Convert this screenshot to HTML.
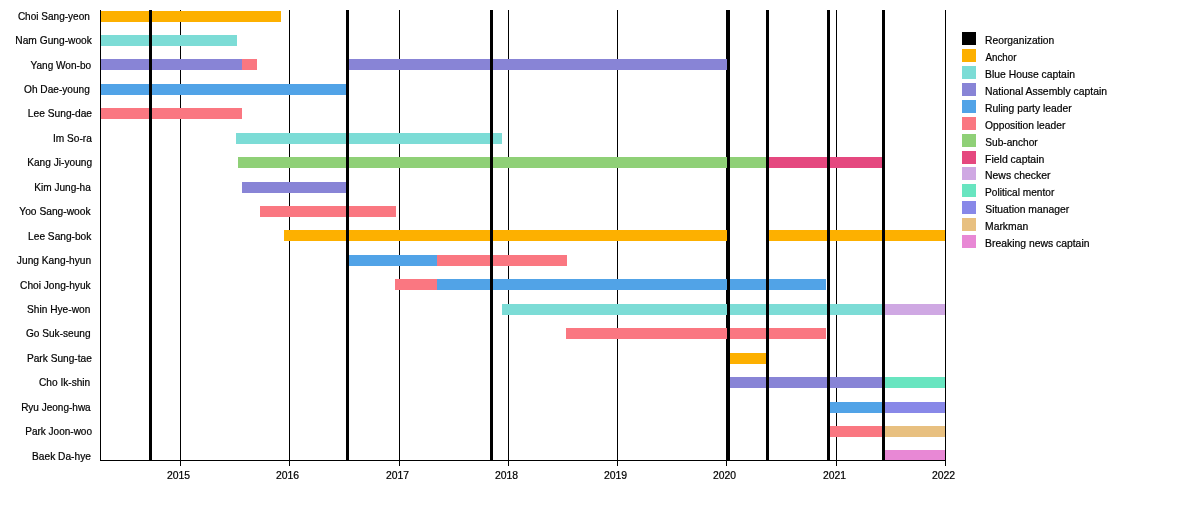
<!DOCTYPE html>
<html><head><meta charset="utf-8"><title>Timeline</title>
<style>
html,body{margin:0;padding:0;background:#fff;}
svg{display:block;will-change:transform;}
text{font-family:"Liberation Sans",sans-serif;font-size:10.1px;fill:#000;stroke:#000;stroke-width:0.2px;}
</style></head><body>
<svg width="1200" height="525" viewBox="0 0 1200 525">
<rect x="0" y="0" width="1200" height="525" fill="#ffffff"/>

<g shape-rendering="crispEdges">
<rect x="180" y="10" width="1" height="456" fill="#000"/>
<rect x="289" y="10" width="1" height="456" fill="#000"/>
<rect x="399" y="10" width="1" height="456" fill="#000"/>
<rect x="508" y="10" width="1" height="456" fill="#000"/>
<rect x="617" y="10" width="1" height="456" fill="#000"/>
<rect x="726" y="10" width="1" height="456" fill="#000"/>
<rect x="836" y="10" width="1" height="456" fill="#000"/>
<rect x="945" y="10" width="1" height="456" fill="#000"/>
<rect x="100" y="11" width="181" height="11" fill="#FDB000"/>
<rect x="100" y="35" width="137" height="11" fill="#7CDCD6"/>
<rect x="100" y="59" width="142" height="11" fill="#8884D6"/>
<rect x="242" y="59" width="15" height="11" fill="#FA7781"/>
<rect x="347" y="59" width="381" height="11" fill="#8884D6"/>
<rect x="100" y="84" width="247" height="11" fill="#51A3E7"/>
<rect x="100" y="108" width="142" height="11" fill="#FA7781"/>
<rect x="236" y="133" width="266" height="11" fill="#7CDCD6"/>
<rect x="238" y="157" width="529" height="11" fill="#8FD077"/>
<rect x="767" y="157" width="116" height="11" fill="#E5487F"/>
<rect x="242" y="182" width="105" height="11" fill="#8884D6"/>
<rect x="260" y="206" width="136" height="11" fill="#FA7781"/>
<rect x="284" y="230" width="444" height="11" fill="#FDB000"/>
<rect x="767" y="230" width="178" height="11" fill="#FDB000"/>
<rect x="347" y="255" width="90" height="11" fill="#51A3E7"/>
<rect x="437" y="255" width="130" height="11" fill="#FA7781"/>
<rect x="395" y="279" width="42" height="11" fill="#FA7781"/>
<rect x="437" y="279" width="389" height="11" fill="#51A3E7"/>
<rect x="502" y="304" width="381" height="11" fill="#7CDCD6"/>
<rect x="883" y="304" width="62" height="11" fill="#CFA8E3"/>
<rect x="566" y="328" width="260" height="11" fill="#FA7781"/>
<rect x="728" y="353" width="39" height="11" fill="#FDB000"/>
<rect x="728" y="377" width="155" height="11" fill="#8884D6"/>
<rect x="883" y="377" width="62" height="11" fill="#68E5C0"/>
<rect x="828" y="402" width="55" height="11" fill="#51A3E7"/>
<rect x="883" y="402" width="62" height="11" fill="#8888E8"/>
<rect x="828" y="426" width="55" height="11" fill="#FA7781"/>
<rect x="883" y="426" width="62" height="11" fill="#E8C080"/>
<rect x="883" y="450" width="62" height="11" fill="#E888D5"/>
<rect x="149" y="10" width="3" height="450" fill="#000"/>
<rect x="346" y="10" width="3" height="450" fill="#000"/>
<rect x="490" y="10" width="3" height="450" fill="#000"/>
<rect x="727" y="10" width="3" height="450" fill="#000"/>
<rect x="766" y="10" width="3" height="450" fill="#000"/>
<rect x="827" y="10" width="3" height="450" fill="#000"/>
<rect x="882" y="10" width="3" height="450" fill="#000"/>
<rect x="100" y="10" width="1" height="451" fill="#000"/>
<rect x="100" y="460" width="846" height="1" fill="#000"/>
<rect x="962" y="32" width="14" height="13" fill="#000000"/>
<rect x="962" y="49" width="14" height="13" fill="#FDB000"/>
<rect x="962" y="66" width="14" height="13" fill="#7CDCD6"/>
<rect x="962" y="83" width="14" height="13" fill="#8884D6"/>
<rect x="962" y="100" width="14" height="13" fill="#51A3E7"/>
<rect x="962" y="117" width="14" height="13" fill="#FA7781"/>
<rect x="962" y="134" width="14" height="13" fill="#8FD077"/>
<rect x="962" y="151" width="14" height="13" fill="#E5487F"/>
<rect x="962" y="167" width="14" height="13" fill="#CFA8E3"/>
<rect x="962" y="184" width="14" height="13" fill="#68E5C0"/>
<rect x="962" y="201" width="14" height="13" fill="#8888E8"/>
<rect x="962" y="218" width="14" height="13" fill="#E8C080"/>
<rect x="962" y="235" width="14" height="13" fill="#E888D5"/>
</g>
<text id="n0" x="17.89" y="20.0" textLength="71.99" lengthAdjust="spacingAndGlyphs">Choi Sang-yeon</text>
<text id="n1" x="15.35" y="44.0" textLength="76.48" lengthAdjust="spacingAndGlyphs">Nam Gung-wook</text>
<text id="n2" x="30.59" y="69.0" textLength="60.49" lengthAdjust="spacingAndGlyphs">Yang Won-bo</text>
<text id="n3" x="24.04" y="93.0" textLength="65.77" lengthAdjust="spacingAndGlyphs">Oh Dae-young</text>
<text id="n4" x="27.84" y="117.0" textLength="64.19" lengthAdjust="spacingAndGlyphs">Lee Sung-dae</text>
<text id="n5" x="52.94" y="142.0" textLength="38.89" lengthAdjust="spacingAndGlyphs">Im So-ra</text>
<text id="n6" x="27.20" y="166.0" textLength="64.90" lengthAdjust="spacingAndGlyphs">Kang Ji-young</text>
<text id="n7" x="34.22" y="191.0" textLength="56.61" lengthAdjust="spacingAndGlyphs">Kim Jung-ha</text>
<text id="n8" x="19.30" y="215.0" textLength="71.23" lengthAdjust="spacingAndGlyphs">Yoo Sang-wook</text>
<text id="n9" x="28.10" y="240.0" textLength="63.25" lengthAdjust="spacingAndGlyphs">Lee Sang-bok</text>
<text id="n10" x="16.86" y="264.0" textLength="74.31" lengthAdjust="spacingAndGlyphs">Jung Kang-hyun</text>
<text id="n11" x="20.05" y="289.0" textLength="70.60" lengthAdjust="spacingAndGlyphs">Choi Jong-hyuk</text>
<text id="n12" x="27.03" y="313.0" textLength="63.30" lengthAdjust="spacingAndGlyphs">Shin Hye-won</text>
<text id="n13" x="25.95" y="337.0" textLength="64.61" lengthAdjust="spacingAndGlyphs">Go Suk-seung</text>
<text id="n14" x="26.93" y="362.0" textLength="64.94" lengthAdjust="spacingAndGlyphs">Park Sung-tae</text>
<text id="n15" x="39.03" y="386.0" textLength="51.23" lengthAdjust="spacingAndGlyphs">Cho Ik-shin</text>
<text id="n16" x="21.13" y="411.0" textLength="69.56" lengthAdjust="spacingAndGlyphs">Ryu Jeong-hwa</text>
<text id="n17" x="25.22" y="435.0" textLength="66.79" lengthAdjust="spacingAndGlyphs">Park Joon-woo</text>
<text id="n18" x="32.09" y="460.0" textLength="58.85" lengthAdjust="spacingAndGlyphs">Baek Da-hye</text>
<text id="l0" x="985.08" y="44.0" textLength="69.08" lengthAdjust="spacingAndGlyphs">Reorganization</text>
<text id="l1" x="985.42" y="61.0" textLength="31.02" lengthAdjust="spacingAndGlyphs">Anchor</text>
<text id="l2" x="985.05" y="78.0" textLength="89.92" lengthAdjust="spacingAndGlyphs">Blue House captain</text>
<text id="l3" x="985.05" y="95.0" textLength="122.02" lengthAdjust="spacingAndGlyphs">National Assembly captain</text>
<text id="l4" x="985.08" y="112.0" textLength="86.54" lengthAdjust="spacingAndGlyphs">Ruling party leader</text>
<text id="l5" x="985.07" y="129.0" textLength="80.25" lengthAdjust="spacingAndGlyphs">Opposition leader</text>
<text id="l6" x="985.27" y="146.0" textLength="52.44" lengthAdjust="spacingAndGlyphs">Sub-anchor</text>
<text id="l7" x="985.05" y="163.0" textLength="59.25" lengthAdjust="spacingAndGlyphs">Field captain</text>
<text id="l8" x="985.05" y="179.0" textLength="65.44" lengthAdjust="spacingAndGlyphs">News checker</text>
<text id="l9" x="985.12" y="196.0" textLength="69.16" lengthAdjust="spacingAndGlyphs">Political mentor</text>
<text id="l10" x="985.25" y="213.0" textLength="83.91" lengthAdjust="spacingAndGlyphs">Situation manager</text>
<text id="l11" x="985.05" y="230.0" textLength="43.13" lengthAdjust="spacingAndGlyphs">Markman</text>
<text id="l12" x="985.05" y="247.0" textLength="104.43" lengthAdjust="spacingAndGlyphs">Breaking news captain</text>
<text id="y2015" x="166.92" y="479.0" textLength="23.12" lengthAdjust="spacingAndGlyphs">2015</text>
<text id="y2016" x="275.92" y="479.0" textLength="23.16" lengthAdjust="spacingAndGlyphs">2016</text>
<text id="y2017" x="385.92" y="479.0" textLength="23.08" lengthAdjust="spacingAndGlyphs">2017</text>
<text id="y2018" x="494.92" y="479.0" textLength="23.16" lengthAdjust="spacingAndGlyphs">2018</text>
<text id="y2019" x="603.92" y="479.0" textLength="23.25" lengthAdjust="spacingAndGlyphs">2019</text>
<text id="y2020" x="712.93" y="479.0" textLength="23.02" lengthAdjust="spacingAndGlyphs">2020</text>
<text id="y2021" x="822.92" y="479.0" textLength="23.09" lengthAdjust="spacingAndGlyphs">2021</text>
<text id="y2022" x="931.92" y="479.0" textLength="23.18" lengthAdjust="spacingAndGlyphs">2022</text>
</svg></body></html>
